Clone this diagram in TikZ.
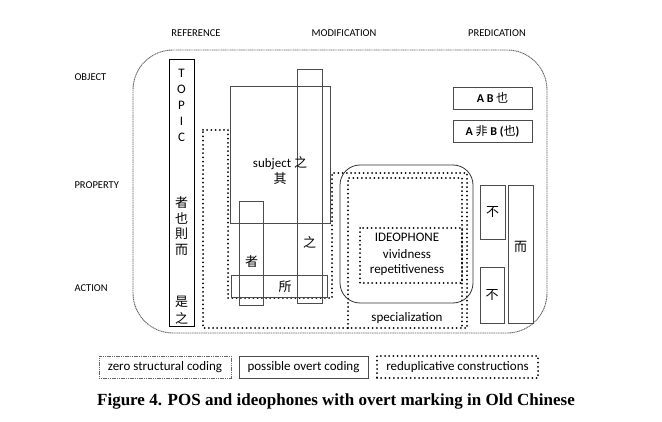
\documentclass[tikz,border=0pt]{standalone}
\usepackage{fontspec}
\setmainfont{Carlito}
\newfontfamily\cjk{Noto Sans CJK TC}
\newfontfamily\capfont{Liberation Serif}
\usetikzlibrary{positioning}
\tikzset{
    %Define style for axis labels
    axislabel/.style={
             font=\fontsize{10.5}{12}\selectfont},
    %Define style for boxes
    overtbox/.style={
             rectangle,
             draw=black!70, line width=0.8pt,
             inner sep=0pt},
    topicbox/.style={
             rectangle,
             draw=black, line width=1pt,
             inner sep=0pt},
    % Define line styles
    zeroline/.style={
            draw=black!60,
            line width=0.9pt,
            dash pattern=on 1.2pt off 0.6pt},
    redupline/.style={
            draw=black,
            line width=2pt,
            line cap=round,
            dash pattern=on 0pt off 4.2pt},
    boxtext/.style={
            inner sep=0pt}
}
\begin{document}
\begin{tikzpicture}[x=1pt, y=-1pt, font=\fontsize{13}{15}\selectfont]
 \useasboundingbox (0,0) rectangle (662,422);
 % functions and semantic classes
 \node[axislabel] (reference) at (196,33) {REFERENCE};
 \node[axislabel] (modification) at (344,33) {MODIFICATION};
 \node[axislabel] (predication) at (497,33) {PREDICATION};
 \node[axislabel, anchor=west] (object) at (71,77) {OBJECT};
 \node[axislabel, anchor=west] (property) at (71,185) {PROPERTY};
 \node[axislabel, anchor=west] (action) at (71,288) {ACTION};
 % zero coding area
 \draw[zeroline, rounded corners=40pt] (133,50) rectangle (547,333);
 % topic
 \node[topicbox, minimum width=25pt, minimum height=267pt] (topic) at (181.5,193.5) {};
 \foreach \l [count=\i] in {T,O,P,I,C}
    \node[boxtext] (topic\i) at (181.5,57+16*\i) {\l};
 \foreach \c [count=\i] in {者,也,則,而}
    \node[boxtext] (topicmark\i) at (181.5,187+15.7*\i) {\cjk\c};
 \node[boxtext] (shi) at (181.5,302) {\cjk 是};
 \node[boxtext] (zhitopic) at (181.5,318) {\cjk 之};
 % reduplicative constructions
 \draw[redupline] (203,130) -- (228,130) -- (228,298) -- (332,298) -- (332,173)
       -- (467,173) -- (467,328) -- (203,328) -- cycle;
 \draw[redupline] (348,328) -- (348,178) -- (462,178) -- (462,328);
 \draw[redupline] (360,228) rectangle (462,283);
 % modification
 \node[overtbox, minimum width=100pt, minimum height=137pt] (subjbox) at (280,154.5) {};
 \node[overtbox, minimum width=25pt, minimum height=234pt] (zhibox) at (309.5,186) {};
 \node[overtbox, minimum width=24pt, minimum height=104pt] (zhebox) at (251,253) {};
 \node[overtbox, minimum width=96pt, minimum height=22pt] (suobox) at (279,286) {};
 \node[boxtext] (subject) at (280,163) {subject {\cjk 之}};
 \node[boxtext] (qi) at (280,179) {\cjk 其};
 \node[boxtext] (zhi) at (309.5,242) {\cjk 之};
 \node[boxtext] (zhe) at (251.5,262) {\cjk 者};
 \node[boxtext] (suo) at (285,287) {\cjk 所};
 % ideophone
 \node[overtbox, draw=black!80, rounded corners=20pt, minimum width=133pt, minimum height=138pt] (ideobox) at (406.5,234) {};
 \node[boxtext] (ideophone) at (407,237) {IDEOPHONE};
 \node[boxtext] (vivid) at (407,254) {vividness};
 \node[boxtext] (repet) at (407,270) {repetitiveness};
 \node[boxtext] (special) at (407,318) {specialization};
 % predication
 \node[overtbox, minimum width=79pt, minimum height=22pt] (ab) at (492.5,98) {\fontsize{12}{14}\selectfont\bfseries A B {\cjk\mdseries 也}};
 \node[overtbox, minimum width=79pt, minimum height=22pt] (afeib) at (492.5,131.5) {\fontsize{12}{14}\selectfont\bfseries A {\cjk\mdseries 非} B ({\cjk\mdseries 也})};
 \node[overtbox, minimum width=25pt, minimum height=54pt] (bu1) at (492.5,212) {\cjk 不};
 \node[overtbox, minimum width=24pt, minimum height=56pt] (bu2) at (492,295) {\cjk 不};
 \node[overtbox, minimum width=25pt, minimum height=138pt] (erbox) at (520.5,254) {};
 \node[boxtext] (er) at (520.5,247) {\cjk 而};
 % legend
 \node[zeroline, minimum width=132pt, minimum height=22pt] (legzero) at (165,367) {zero structural coding};
 \node[overtbox, minimum width=129pt, minimum height=22pt] (legovert) at (303.5,367) {possible overt coding};
 \node[redupline, minimum width=161pt, minimum height=22pt] (legredup) at (457.5,367) {reduplicative constructions};
 % caption
 \node[font=\capfont\bfseries\fontsize{17}{19}\selectfont] (caption) at (336,401) {Figure 4. POS and ideophones with overt marking in Old Chinese};
\end{tikzpicture}
\end{document}
